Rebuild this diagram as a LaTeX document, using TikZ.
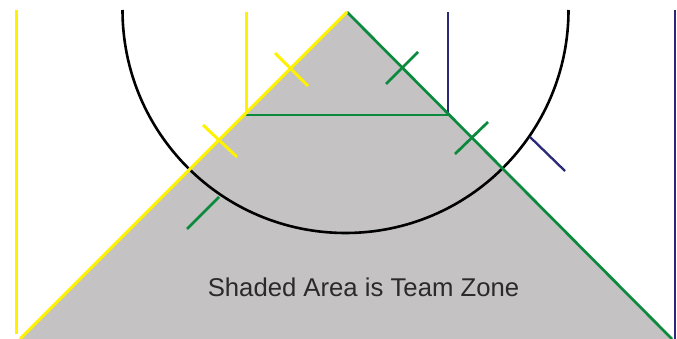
\documentclass[tikz,border=0pt]{standalone}
\usepackage{fontspec}
\setmainfont{Liberation Sans}
\definecolor{zyellow}{HTML}{FFF200}
\definecolor{zgreen}{HTML}{0B8A3E}
\definecolor{zblue}{HTML}{2A2878}
\definecolor{zgray}{HTML}{C4C2C3}
\definecolor{ztext}{HTML}{2A2A2A}
\begin{document}
\begin{tikzpicture}[x=1pt,y=-1pt,
  yline/.style={draw=zyellow,line width=3pt},
  gline/.style={draw=zgreen,line width=2.7pt},
  bline/.style={draw=zblue,line width=2.3pt},
  cline/.style={draw=black,line width=2.6pt},
  label/.style={text=ztext,font=\fontsize{25.7}{30}\selectfont,inner sep=0pt}]
\useasboundingbox[fill=white] (0,0) rectangle (677,339);
% key points
\coordinate (apex) at (347,12);
\coordinate (bl) at (20,339);
\coordinate (br) at (672,339);
\coordinate (hl) at (246,115);
\coordinate (hr) at (448,115);
\coordinate (ytop) at (246,12);
\coordinate (btop) at (448,12);
\coordinate (lv1) at (16,10);
\coordinate (lv2) at (16,334);
\coordinate (rv1) at (675,10);
\coordinate (rv2) at (675,339);
\coordinate (cc) at (345.5,10);
% shaded zone
\fill[zgray] (apex) -- (br) -- (bl) -- cycle;
% circle
\draw[cline] (cc) ++(-223,0) arc[start angle=180,end angle=360,radius=223pt];
% verticals
\draw[yline] (lv1) -- (lv2);
\draw[bline] (rv1) -- (rv2);
\draw[yline] (ytop) -- (hl);
\draw[bline] (btop) -- (hr);
% horizontal
\draw[gline] (hl) -- (hr);
% diagonals
\draw[gline] (apex) -- (br);
\draw[yline] (apex) -- (bl);
% ticks
\coordinate (y1a) at (275,53); \coordinate (y1b) at (308,86);
\coordinate (y2a) at (203,125); \coordinate (y2b) at (237,157);
\coordinate (g1a) at (386,84); \coordinate (g1b) at (418,52);
\coordinate (g2a) at (455,154); \coordinate (g2b) at (488,122);
\coordinate (g3a) at (219,197); \coordinate (g3b) at (187,229);
\coordinate (b1a) at (530,137); \coordinate (b1b) at (565,171);
\draw[yline] (y1a) -- (y1b);
\draw[yline] (y2a) -- (y2b);
\draw[gline] (g1a) -- (g1b);
\draw[gline] (g2a) -- (g2b);
\draw[gline] (g3a) -- (g3b);
\draw[bline] (b1a) -- (b1b);
% label
\node[label] (lbl) at (363.5,287) {Shaded Area is Team Zone};
\end{tikzpicture}
\end{document}
